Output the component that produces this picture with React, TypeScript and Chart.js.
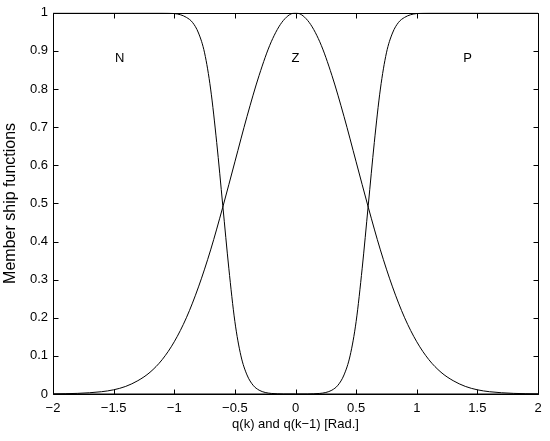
import React, { useEffect, useRef } from "react";
import { Chart, registerables } from "chart.js";

Chart.register(...registerables);

// x positions (rad) and membership values
const xN = [-2.0, -1.5, -1.1, -1.0, -0.95, -0.9, -0.85, -0.8, -0.75, -0.7, -0.65, -0.6, -0.55, -0.5, -0.45, -0.4, -0.35, -0.3, -0.25, -0.2, -0.15, -0.1, 0.0, 1.0, 2.0];
const yN = [1.0, 1.0, 1.0, 0.998, 0.995, 0.988, 0.975, 0.947, 0.895, 0.8, 0.66, 0.495, 0.33, 0.19, 0.1, 0.05, 0.023, 0.01, 0.004, 0.0015, 0.0005, 0.0, 0.0, 0.0, 0.0];

const xZ = [-2.0, -1.8, -1.6, -1.5, -1.4, -1.3, -1.2, -1.1, -1.0, -0.9, -0.8, -0.7, -0.6, -0.5, -0.4, -0.3, -0.2, -0.1, 0.0, 0.1, 0.2, 0.3, 0.4, 0.5, 0.6, 0.7, 0.8, 0.9, 1.0, 1.1, 1.2, 1.3, 1.4, 1.5, 1.6, 1.8, 2.0];
const yZ = [0.0004, 0.0016, 0.006, 0.011, 0.02, 0.035, 0.057, 0.09, 0.137, 0.2, 0.281, 0.378, 0.49, 0.609, 0.728, 0.836, 0.924, 0.98, 1.0, 0.98, 0.924, 0.836, 0.728, 0.609, 0.49, 0.378, 0.281, 0.2, 0.137, 0.09, 0.057, 0.035, 0.02, 0.011, 0.006, 0.0016, 0.0004];

const xP = [-2.0, -1.0, 0.0, 0.1, 0.15, 0.2, 0.25, 0.3, 0.35, 0.4, 0.45, 0.5, 0.55, 0.6, 0.65, 0.7, 0.75, 0.8, 0.85, 0.9, 0.95, 1.0, 1.1, 1.5, 2.0];
const yP = [0.0, 0.0, 0.0, 0.0, 0.0005, 0.0015, 0.004, 0.01, 0.023, 0.05, 0.1, 0.19, 0.33, 0.495, 0.66, 0.8, 0.895, 0.947, 0.975, 0.988, 0.995, 0.998, 1.0, 1.0, 1.0];

const labelTexts = ["N", "Z", "P"];
const labelX = [-1.45, 0.0, 1.42];
const labelY = [0.88, 0.88, 0.88];

const xTitle = "q(k) and q(k\u22121) [Rad.]";
const yTitle = "Member ship functions";

const FONT = "'Liberation Sans', Arial, Helvetica, sans-serif";

const toPts = (xs: number[], ys: number[]) => xs.map((x, i) => ({ x, y: ys[i] }));

const fmt = (v: number) => String(+Number(v).toFixed(2)).replace("-", "\u2212");

const framePlugin = {
  id: "matlabFrame",
  afterDraw(chart: any) {
    const { ctx, chartArea } = chart;
    const { left, right, top, bottom } = chartArea;
    const xs = chart.scales.x;
    const ys = chart.scales.y;
    const L = 5;
    ctx.save();
    ctx.strokeStyle = "#000";
    ctx.lineWidth = 1;
    ctx.beginPath();
    const l = Math.round(left) + 0.5, r = Math.round(right) + 0.5;
    const t = Math.round(top) + 0.5, b = Math.round(bottom) + 0.5;
    ctx.rect(l, t, r - l, b - t);
    xs.ticks.forEach((tk: any) => {
      const px = Math.round(xs.getPixelForValue(tk.value)) + 0.5;
      ctx.moveTo(px, b); ctx.lineTo(px, b - L);
      ctx.moveTo(px, t); ctx.lineTo(px, t + L);
    });
    ys.ticks.forEach((tk: any) => {
      const py = Math.round(ys.getPixelForValue(tk.value)) + 0.5;
      ctx.moveTo(l, py); ctx.lineTo(l + L, py);
      ctx.moveTo(r, py); ctx.lineTo(r - L, py);
    });
    ctx.stroke();
    // curve labels
    ctx.fillStyle = "#000";
    ctx.font = `13px ${FONT}`;
    ctx.textAlign = "center";
    ctx.textBaseline = "middle";
    labelTexts.forEach((s, i) => {
      ctx.fillText(s, xs.getPixelForValue(labelX[i]), ys.getPixelForValue(labelY[i]));
    });
    ctx.restore();
  },
};

export default function App() {
  const ref = useRef<HTMLCanvasElement | null>(null);
  useEffect(() => {
    if (!ref.current) return;
    const ds = (data: any[]) => ({
      data,
      borderColor: "#000",
      borderWidth: 1,
      pointRadius: 0,
      fill: false,
      cubicInterpolationMode: "monotone" as const,
    });
    const chart = new Chart(ref.current, {
      type: "line",
      data: {
        datasets: [ds(toPts(xN, yN)), ds(toPts(xZ, yZ)), ds(toPts(xP, yP))],
      },
      options: {
        animation: false,
        responsive: false,
        layout: { padding: { left: 0, right: 12, top: 12, bottom: 0 } },
        plugins: { legend: { display: false }, tooltip: { enabled: false } },
        scales: {
          x: {
            type: "linear",
            min: -2,
            max: 2,
            grid: { display: false, drawTicks: false },
            border: { display: false },
            ticks: {
              stepSize: 0.5,
              autoSkip: false,
              maxRotation: 0,
              padding: 7,
              color: "#000",
              font: { family: FONT, size: 13 },
              callback: (v: any) => fmt(v),
            },
            title: {
              display: true,
              text: xTitle,
              color: "#000",
              font: { family: FONT, size: 13 },
              padding: { top: 0, bottom: 9 },
            },
            afterFit: (s: any) => { s.height = 47; },
          },
          y: {
            type: "linear",
            min: 0,
            max: 1,
            grid: { display: false, drawTicks: false },
            border: { display: false },
            ticks: {
              stepSize: 0.1,
              autoSkip: false,
              padding: 5,
              color: "#000",
              font: { family: FONT, size: 13 },
              callback: (v: any) => fmt(v),
            },
            title: {
              display: true,
              text: yTitle,
              color: "#000",
              font: { family: FONT, size: 16 },
              padding: { top: 1, bottom: 0 },
            },
            afterFit: (s: any) => { s.width = 53; },
          },
        },
      },
      plugins: [framePlugin],
    });
    return () => chart.destroy();
  }, []);
  return (
    <div style={{ position: "absolute", left: 0, top: 0, width: 550, height: 441, background: "#fff" }}>
      <canvas ref={ref} width={550} height={441} style={{ display: "block" }} />
    </div>
  );
}
